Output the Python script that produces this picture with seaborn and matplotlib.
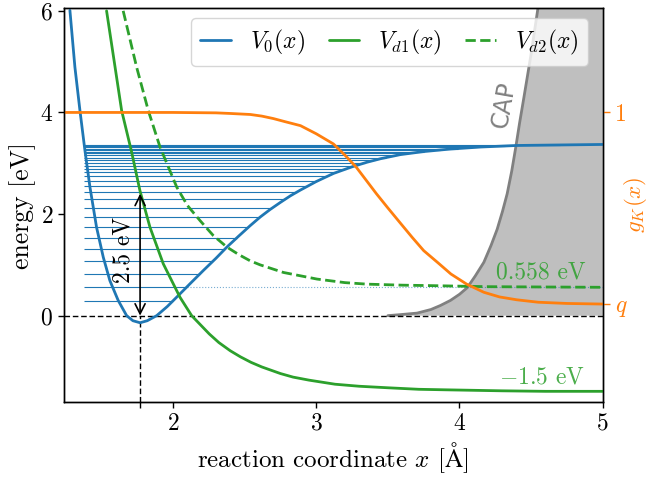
import numpy as np
import matplotlib
matplotlib.use("Agg")
import matplotlib.pyplot as plt
import seaborn as sns

# curves: x in Angstrom, energies in eV
v0_x = [1.280, 1.315, 1.350, 1.385, 1.420, 1.466, 1.513, 1.559, 1.617, 1.676, 1.720, 1.770,
        1.820, 1.886, 1.960, 2.049, 2.130, 2.212, 2.300, 2.376, 2.460, 2.538, 2.608, 2.678,
        2.750, 2.820, 2.888, 3.000, 3.121, 3.250, 3.354, 3.450, 3.587, 3.750, 3.937, 4.150,
        4.403, 4.700, 5.000]
v0_y = [6.01, 4.89, 4.04, 3.25, 2.53, 1.74, 1.15, 0.69, 0.30, 0.00, -0.10, -0.14,
        -0.10, 0.00, 0.18, 0.43, 0.66, 0.89, 1.13, 1.35, 1.57, 1.77, 1.94, 2.09,
        2.23, 2.36, 2.47, 2.64, 2.80, 2.93, 3.02, 3.09, 3.17, 3.23, 3.28, 3.32,
        3.35, 3.36, 3.37]

vd1_x = [1.536, 1.641, 1.711, 1.769, 1.839, 1.932, 2.049, 2.130, 2.253, 2.320, 2.399, 2.470,
         2.545, 2.620, 2.750, 2.838, 2.950, 3.131, 3.300, 3.500, 3.716, 3.900, 4.300, 4.600, 5.000]
vd1_y = [6.00, 4.04, 3.22, 2.46, 1.74, 1.02, 0.36, 0.00, -0.36, -0.53, -0.69, -0.81,
         -0.92, -1.01, -1.14, -1.21, -1.27, -1.35, -1.39, -1.42, -1.45, -1.46, -1.48, -1.49, -1.49]

vd2_x = [1.652, 1.746, 1.827, 1.909, 2.026, 2.100, 2.189, 2.280, 2.376, 2.460, 2.538, 2.608,
         2.771, 3.005, 3.200, 3.354, 3.600, 3.820, 4.200, 5.000]
vd2_y = [6.00, 4.89, 4.04, 3.32, 2.53, 2.17, 1.87, 1.58, 1.35, 1.20, 1.08, 1.00,
         0.85, 0.72, 0.65, 0.62, 0.60, 0.59, 0.57, 0.558]

cap_x = [3.500, 3.587, 3.704, 3.800, 3.867, 3.937, 4.000, 4.054, 4.110, 4.170, 4.220,
         4.263, 4.300, 4.333, 4.365, 4.392, 4.420, 4.450, 4.497, 4.545, 4.600, 5.000]
cap_y = [0.00, 0.02, 0.05, 0.12, 0.20, 0.30, 0.42, 0.55, 0.78, 1.05, 1.38,
         1.70, 2.05, 2.40, 2.85, 3.30, 3.80, 4.30, 5.10, 6.00, 7.00, 15.0]

# switching function on the right axis
gk_x = [1.236, 2.00, 2.30, 2.40, 2.54, 2.62, 2.70, 2.78, 2.89, 3.00, 3.06, 3.12, 3.20, 3.28,
        3.35, 3.42, 3.50, 3.59, 3.67, 3.75, 3.85, 3.94, 4.05, 4.17, 4.28, 4.40, 4.55, 4.75, 5.00]
gk_y = [1.0, 1.0, 0.998, 0.995, 0.99, 0.982, 0.97, 0.955, 0.935, 0.895, 0.87, 0.845, 0.79,
        0.73, 0.665, 0.60, 0.53, 0.453, 0.385, 0.32, 0.26, 0.205, 0.155, 0.115, 0.092, 0.078,
        0.066, 0.06, 0.057]
q = 0.055

# vibrational levels of V0 (the ground level sits on the dashed 0 line)
levels = [0.295, 0.558, 0.827, 1.077, 1.314, 1.537, 1.740, 1.937, 2.120, 2.290,
          2.430, 2.550, 2.650, 2.740, 2.820, 2.890, 2.950, 3.010, 3.060, 3.110,
          3.155, 3.195, 3.230, 3.260, 3.290, 3.315, 3.340, 3.360]
level_x0 = 1.38
x_eq = 1.77
gap = 2.4
e_d2 = 0.558

sns.set_style("ticks", {"axes.edgecolor": "black", "xtick.color": "black",
                        "ytick.color": "black", "text.color": "black",
                        "axes.labelcolor": "black"})
plt.rcParams["font.family"] = "serif"
plt.rcParams["font.serif"] = ["cmr10"]
plt.rcParams["mathtext.fontset"] = "cm"
plt.rcParams["axes.unicode_minus"] = False
plt.rcParams["axes.formatter.use_mathtext"] = True

fs = 17
fig = plt.figure(figsize=(6.53, 4.78), dpi=100)
ax = fig.add_axes([0.0974, 0.159, 0.8256, 0.8236])

# CAP region
ax.fill_between(cap_x, cap_y, 0, color="#bfbfbf", lw=0, zorder=1)
sns.lineplot(x=cap_x, y=cap_y, ax=ax, color="gray", lw=2, sort=False, estimator=None, zorder=2)

# levels, each up to the right turning point of V0
i_min = int(np.argmin(v0_y))
right_x = np.array(v0_x[i_min:])
right_y = np.array(v0_y[i_min:])
x_ends = np.interp(levels, right_y, right_x)
ax.hlines(levels, level_x0, x_ends, color="C0", lw=0.8, zorder=2)
ax.hlines(e_d2, np.interp(e_d2, right_y, right_x), 5, color="C0", lw=0.8,
          linestyle=":", alpha=0.6, zorder=2)

ax.axhline(0, color="black", lw=1, ls=(0, (4, 2)), zorder=3)
ax.plot([x_eq, x_eq], [-1.7, 0], color="black", lw=1, ls=(0, (4, 2)), zorder=3)

sns.lineplot(x=v0_x, y=v0_y, ax=ax, color="C0", lw=2, sort=False, estimator=None,
             label=r"$V_0(x)$", zorder=4)
sns.lineplot(x=vd1_x, y=vd1_y, ax=ax, color="C2", lw=2, sort=False, estimator=None,
             label=r"$V_{d1}(x)$", zorder=4)
sns.lineplot(x=vd2_x, y=vd2_y, ax=ax, color="C2", lw=2, ls="--", sort=False, estimator=None,
             label=r"$V_{d2}(x)$", zorder=4)

ax.annotate("", xy=(x_eq, gap), xytext=(x_eq, 0),
            arrowprops=dict(arrowstyle="<->", lw=1.2, color="black", shrinkA=0, shrinkB=0,
                            mutation_scale=18), zorder=5)
ax.text(1.655, 1.29, "2.5 eV", rotation=90, ha="center", va="center", fontsize=fs)
ax.text(4.31, 4.15, "CAP", rotation=80, ha="center", va="center", fontsize=17,
        color="gray", family="DejaVu Sans")
ax.text(4.88, 0.85, "0.558 eV", ha="right", va="center", fontsize=fs, color="C2", alpha=0.85)
ax.text(4.88, -1.22, r"$-$1.5 eV", ha="right", va="center", fontsize=fs, color="C2", alpha=0.85)

ax.set_xlim(1.236, 5)
ax.set_ylim(-1.7, 6.05)
ax.set_xticks([2, 3, 4, 5])
ax.set_xticks([x_eq], minor=True)
ax.set_yticks([0, 2, 4, 6])
ax.tick_params(labelsize=17, length=4, width=1)
ax.tick_params(which="minor", length=4, width=1)
ax.set_xlabel(r"reaction coordinate $x$ [$\mathrm{\AA}$]", fontsize=18)
ax.set_ylabel("energy [eV]", fontsize=18.5, labelpad=3)
for s in ax.spines.values():
    s.set_linewidth(1)

ax.legend(ncol=3, loc="upper right", bbox_to_anchor=(0.973, 0.975), borderaxespad=0,
          fontsize=17, frameon=True, handlelength=1.3, columnspacing=1.0, borderpad=0.4)

ax2 = ax.twinx()
sns.lineplot(x=gk_x, y=gk_y, ax=ax2, color="C1", lw=2, sort=False, estimator=None)
ax2.set_ylim(-1.7 / 4, 6.05 / 4)
ax2.set_yticks([q, 1])
ax2.set_yticklabels([r"$q$", "1"])
ax2.tick_params(axis="y", colors="C1", labelsize=17, length=5, width=1)
ax2.set_ylabel(r"$g_K(x)$", color="C1", fontsize=16.5, rotation=90, va="center")
ax2.yaxis.set_label_coords(1.06, 0.5)
for s in ax2.spines.values():
    s.set_linewidth(1)
    s.set_edgecolor("black")

fig.savefig("out.png", dpi=100)
